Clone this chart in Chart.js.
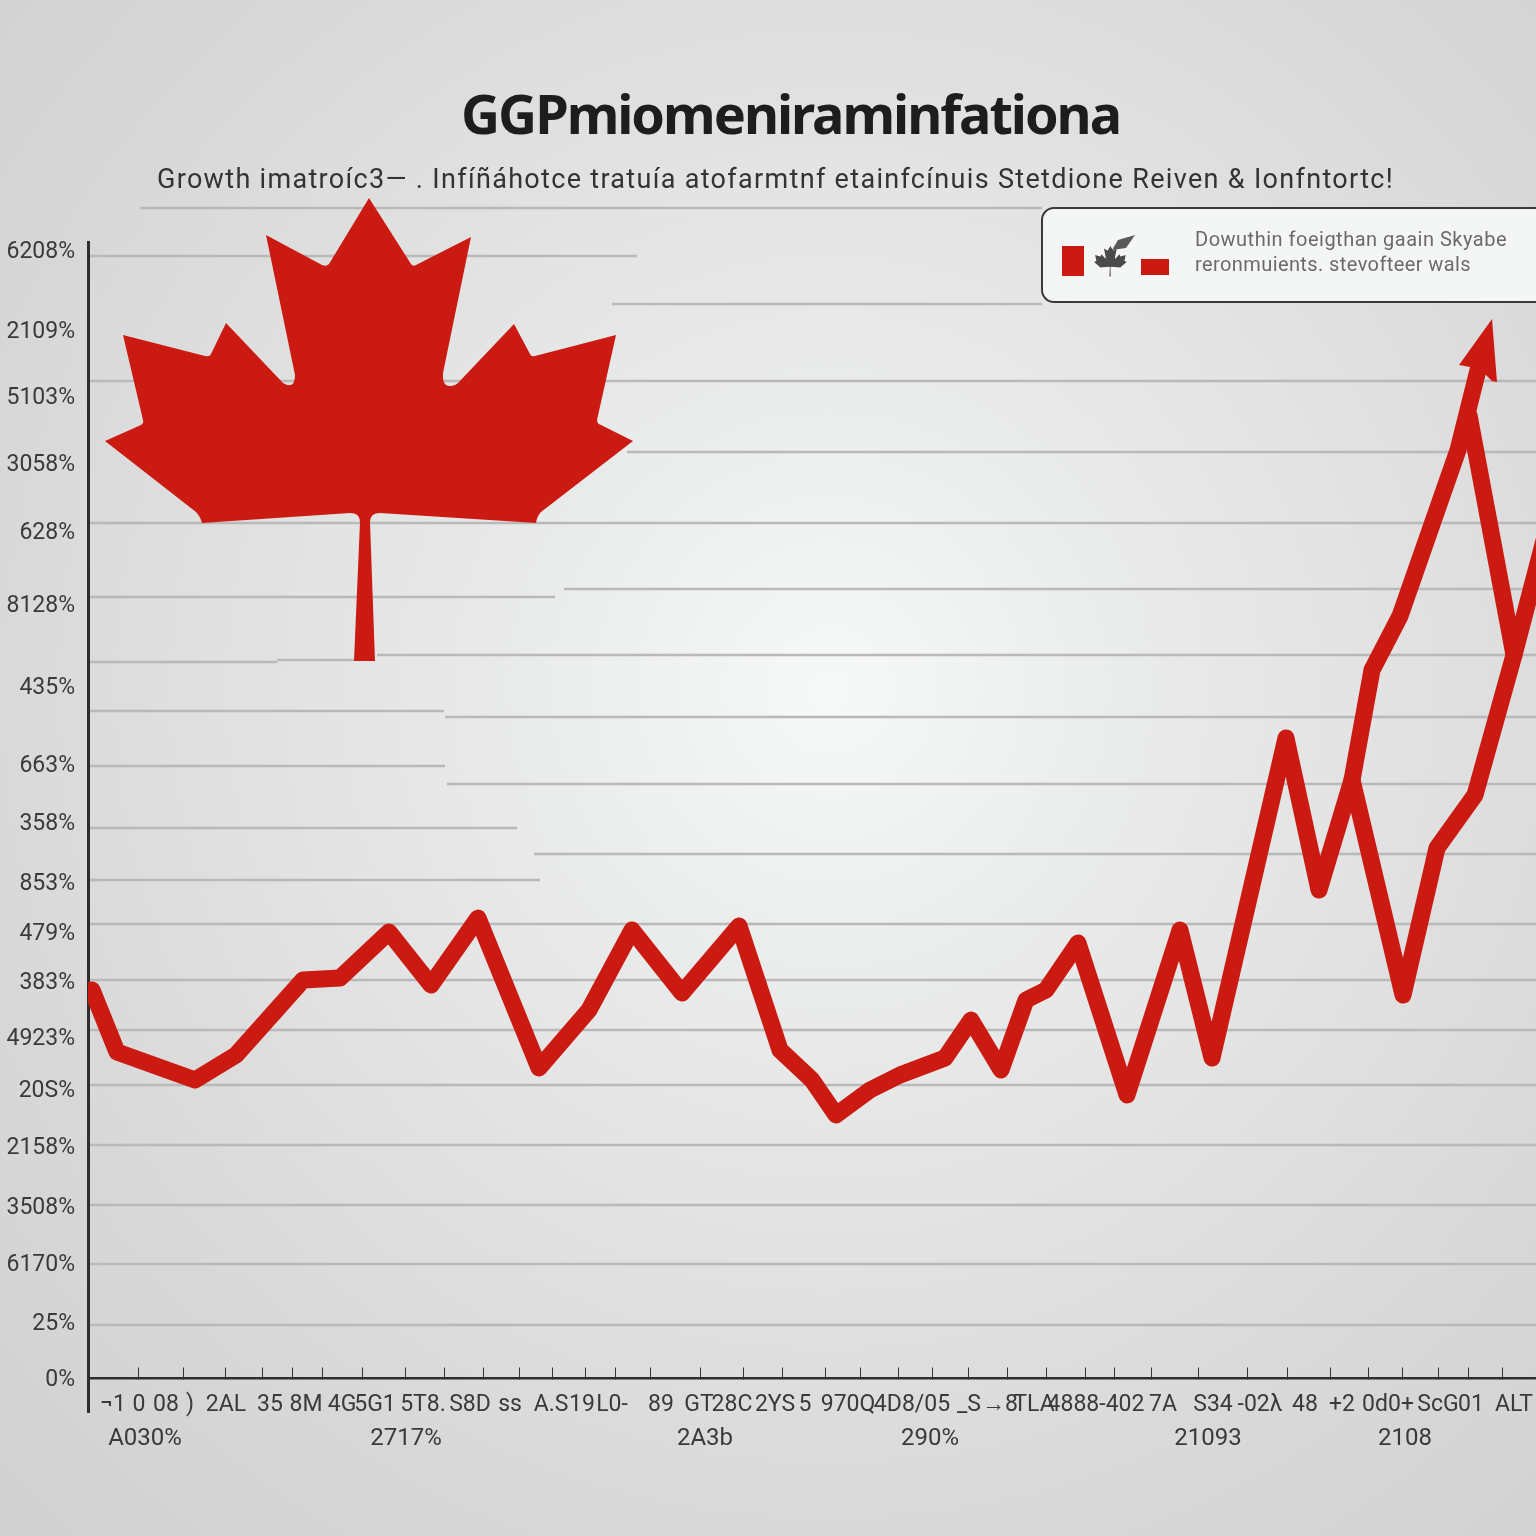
<!DOCTYPE html>
<html>
<head>
<meta charset="utf-8">
<title>GDP chart</title>
<style>
  html, body { margin: 0; padding: 0; }
  body {
    width: 1536px; height: 1536px; overflow: hidden;
    background: radial-gradient(circle at 830px 690px, #f7f8f8 0, #e9eaea 320px, #e0e0e0 620px, #d8d8d8 860px, #d0d0d0 1200px);
  }
  canvas { display: block; }
</style>
<script src="https://cdn.jsdelivr.net/npm/chart.js@4/dist/chart.umd.min.js"></script>
</head>
<body>
<canvas id="chart" width="1536" height="1536"></canvas>
<script>
// values
const mainX = [0.4, 2.9, 10.7, 14.8, 21.5, 25.2, 30.1, 34.3, 39.0, 45.1, 50.1, 54.4, 59.4, 65.1, 69.2, 72.4, 74.8, 78.2, 81.2, 85.7, 88.3, 91.3, 93.8, 95.8, 99.0, 103.9, 109.2, 112.4, 119.8, 123.1, 126.4, 128.4, 131.2, 137.0, 139.0]
const mainY = [38.8, 32.6, 29.8, 32.3, 39.8, 40.0, 44.6, 39.3, 46.0, 31.0, 36.8, 44.8, 38.5, 45.2, 32.8, 29.8, 26.3, 28.8, 30.3, 32.0, 35.8, 30.8, 37.8, 38.8, 43.5, 28.3, 44.8, 32.0, 64.0, 48.8, 59.8, 70.8, 76.2, 92.8, 100.8]

const lowerX = [126.4, 131.5, 134.9, 138.7, 142.6, 146.4]
const lowerY = [59.8, 38.3, 53.0, 58.3, 72.3, 86.8]

const dropX = [138.1, 142.6]
const dropY = [96.3, 72.3]

const yTickValues = [112.8, 104.8, 98.2, 91.5, 84.7, 77.4, 69.2, 61.4, 55.6, 49.6, 44.6, 39.7, 34.1, 28.9, 23.2, 17.2, 11.5, 5.6, 0]
const yTickLabels = ['6208%', '2109%', '5103%', '3058%', '628%', '8128%', '435%', '663%', '358%', '853%', '479%', '383%', '4923%', '20S%', '2158%', '3508%', '6170%', '25%', '0%']

const xMarkValues = [5.0, 9.5, 13.7, 17.4, 20.4, 23.4, 27.5, 31.7, 35.6, 39.6, 43.1, 46.4, 49.8, 52.7, 56.2, 61.3, 65.5, 69.4, 73.7, 77.3, 81.0, 84.4, 88.1, 92.0, 95.8, 99.7, 102.6, 106.3, 111.0, 115.9, 119.9, 124.2, 128.0, 131.4, 135.1, 138.0, 141.4]

const rowOneValues = [2.5, 5.1, 7.8, 10.2, 13.8, 18.2, 21.8, 25.4, 28.7, 33.5, 38.2, 42.2, 46.3, 49.4, 52.4, 57.3, 61.1, 64.4, 68.7, 71.7, 76.0, 82.4, 88.1, 91.2, 94.6, 100.8, 107.5, 112.5, 117.2, 121.7, 125.4, 130.0, 135.0, 138.3, 142.6]
const rowOneLabels = ['¬1', '0', '08', ')', '2AL', '35', '8M', '4G', '5G1', '5T8.', 'S8D', 'ss', 'A.S', '19', 'L0-', '89', 'GT', '28C', '2YS', '5', '970Q', '4D8/05', '_S', '→8', 'TLA', '4888-402', '7A', 'S34', '-02λ', '48', '+2', '0d0+', 'ScG', '01', 'ALT']

const rowTwoValues = [5.7, 31.8, 61.7, 84.2, 112.0, 131.7]
const rowTwoLabels = ['A030%', '2717%', '2A3b', '290%', '21093', '2108']

const gridLevels = [117.0, 112.2, 107.4, 99.7, 92.6, 85.5, 78.9, 78.1, 72.3, 71.8, 71.6, 66.7, 66.1, 61.2, 59.4, 55.0, 52.4, 49.8, 45.4, 39.8, 34.8, 29.3, 23.3, 17.3, 11.4, 5.3]
const gridFrom = [5.2, 0.2, 52.4, 0.2, 53.9, 0.2, 47.6, 0.2, 28.9, 18.9, 0.2, 0.2, 35.7, 0.2, 35.9, 0.2, 44.6, 0.2, 0.2, 0.2, 0.2, 0.2, 0.2, 0.2, 0.2, 0.2]
const gridTo = [95.4, 54.9, 95.4, 144.8, 144.8, 144.8, 144.8, 46.7, 144.8, 26.6, 18.9, 35.6, 144.8, 35.7, 144.8, 42.9, 144.8, 45.2, 144.8, 144.8, 144.8, 144.8, 144.8, 144.8, 144.8, 144.8]

const titleText = 'GGPmiomeniraminfationa'
const subtitleText = 'Growth imatroíc3— . Infíñáhotce tratuía atofarmtnf etainfcínuis Stetdione Reiven & Ionfntortc!'
const legendLines = ['Dowuthin foeigthan gaain Skyabe', 'reronmuients. stevofteer wals']

const RED = '#cb1a11'
const FONT = 'Roboto, "Liberation Sans", sans-serif'

function zip(xs, ys) {
    return xs.map((x, i) => ({ x: x, y: ys[i] }))
}

function traceLeaf(c) {
    c.beginPath()
    c.moveTo(369, 198)
    c.lineTo(411, 264)
    c.quadraticCurveTo(413, 267, 416, 265)
    c.lineTo(471, 237)
    c.lineTo(443, 373)
    c.quadraticCurveTo(442, 387, 451, 386)
    c.quadraticCurveTo(455, 386, 458, 383)
    c.lineTo(514, 324)
    c.lineTo(530, 354)
    c.quadraticCurveTo(531, 357, 535, 356)
    c.lineTo(616, 335)
    c.lineTo(597, 420)
    c.quadraticCurveTo(597, 424, 601, 425)
    c.lineTo(633, 441)
    c.lineTo(541, 512)
    c.quadraticCurveTo(537, 516, 536, 523)
    c.lineTo(380, 513)
    c.quadraticCurveTo(370, 513, 370, 522)
    c.lineTo(375, 661)
    c.lineTo(354, 661)
    c.lineTo(360, 522)
    c.quadraticCurveTo(360, 513, 350, 513)
    c.lineTo(202, 523)
    c.quadraticCurveTo(200, 516, 196, 512)
    c.lineTo(105, 441)
    c.lineTo(141, 425)
    c.quadraticCurveTo(144, 423, 143, 420)
    c.lineTo(123, 335)
    c.lineTo(205, 356)
    c.quadraticCurveTo(210, 357, 211, 354)
    c.lineTo(226, 323)
    c.lineTo(283, 383)
    c.quadraticCurveTo(295, 390, 295, 375)
    c.lineTo(266, 235)
    c.lineTo(322, 265)
    c.quadraticCurveTo(326, 267, 329, 264)
    c.closePath()
}

// spreads the letters so a line fills the same run as in the picture
function fitText(c, text, x, y, width) {
    c.letterSpacing = '0px'
    const gap = (width - c.measureText(text).width) / text.length
    c.letterSpacing = gap.toFixed(3) + 'px'
    c.fillText(text, x, y)
    c.letterSpacing = '0px'
}

// title, flag leaf and the note box sit outside the scales
const decorations = {
    id: 'decorations',
    afterDatasetsDraw(chart) {
        const c = chart.ctx
        c.save()

        c.fillStyle = RED
        traceLeaf(c)
        c.fill()

        c.fillStyle = '#1d1d1d'
        c.font = 'bold 54px "Noto Sans", sans-serif'
        c.textBaseline = 'alphabetic'
        c.textAlign = 'left'
        fitText(c, titleText, 461, 134, 659)

        c.fillStyle = '#333'
        c.font = '27px ' + FONT
        fitText(c, subtitleText, 157, 188, 1237)

        c.beginPath()
        c.roundRect(1042, 208, 520, 94, 12)
        c.fillStyle = '#f4f6f6'
        c.fill()
        c.lineWidth = 2
        c.strokeStyle = '#3a3a3a'
        c.stroke()

        c.fillStyle = RED
        c.fillRect(1062, 246, 22, 30)
        c.fillRect(1141, 259, 28, 16)

        c.save()
        c.translate(1094, 246)
        c.scale(0.062, 0.066)
        c.translate(-105, -198)
        c.fillStyle = '#4a4a4a'
        traceLeaf(c)
        c.fill()
        c.restore()
        c.fillStyle = '#5a5a5a'
        c.beginPath()
        c.moveTo(1135, 235)
        c.lineTo(1118, 240)
        c.lineTo(1112, 250)
        c.lineTo(1126, 248)
        c.closePath()
        c.fill()

        c.fillStyle = '#6a6a6a'
        c.font = '20px ' + FONT
        fitText(c, legendLines[0], 1195, 246, 312)
        fitText(c, legendLines[1], 1195, 271, 276)

        // arrow head on the end of the main line
        const last = chart.getDatasetMeta(0).data[mainX.length - 1]
        c.fillStyle = RED
        c.beginPath()
        c.moveTo(last.x + 14, last.y - 51)
        c.lineTo(last.x - 19, last.y - 5)
        c.lineTo(last.x - 8, last.y - 3)
        c.lineTo(last.x + 8, last.y + 5)
        c.lineTo(last.x + 14, last.y + 11)
        c.lineTo(last.x + 19, last.y + 12)
        c.closePath()
        c.fill()

        c.restore()
    }
}

const lineStyle = {
    borderColor: RED,
    borderWidth: 17,
    borderJoinStyle: 'round',
    borderCapStyle: 'round',
    pointRadius: 0,
    tension: 0,
    clip: { left: 0, right: 0, top: false, bottom: 0 }
}

const gridSets = gridLevels.map((level, i) => ({
    data: [{ x: gridFrom[i], y: level }, { x: gridTo[i], y: level }],
    borderColor: '#b9b9b9',
    borderWidth: 2.5,
    pointRadius: 0,
    clip: false,
    order: 5
}))

function flatAxis(scale) {
    scale.height = 0
    scale.paddingLeft = 0
    scale.paddingRight = 0
}

function xBase(values) {
    return {
        type: 'linear',
        position: { y: 0 },
        min: 0,
        max: 144.8,
        afterFit: flatAxis,
        afterBuildTicks(scale) {
            scale.ticks = values.map(v => ({ value: v }))
        }
    }
}

new Chart(document.getElementById('chart'), {
    type: 'line',
    data: {
        datasets: [
            Object.assign({ data: zip(mainX, mainY), order: 1 }, lineStyle),
            Object.assign({ data: zip(lowerX, lowerY), order: 1 }, lineStyle),
            Object.assign({ data: zip(dropX, dropY), order: 1 }, lineStyle)
        ].concat(gridSets)
    },
    options: {
        responsive: false,
        animation: false,
        layout: { padding: { top: 242, bottom: 124, left: 0, right: 0 } },
        plugins: { legend: { display: false }, tooltip: { enabled: false } },
        scales: {
            x: Object.assign(xBase(xMarkValues), {
                grid: { drawOnChartArea: false, tickLength: -12, tickColor: '#333', tickWidth: 1 },
                border: { display: true, color: '#2e2e2e', width: 2.5 },
                ticks: { display: false, autoSkip: false }
            }),
            xRowOne: Object.assign(xBase(rowOneValues), {
                grid: { display: false, drawTicks: false },
                border: { display: false },
                ticks: {
                    autoSkip: false, maxRotation: 0, padding: 13, color: '#3a3a3a',
                    font: { family: FONT, size: 23 },
                    callback: (v, i) => rowOneLabels[i]
                }
            }),
            xRowTwo: Object.assign(xBase(rowTwoValues), {
                grid: { display: false, drawTicks: false },
                border: { display: false },
                ticks: {
                    autoSkip: false, maxRotation: 0, padding: 47, color: '#3a3a3a',
                    font: { family: FONT, size: 24 },
                    callback: (v, i) => rowTwoLabels[i]
                }
            }),
            y: {
                type: 'linear',
                min: -3.4,
                max: 113.6,
                afterFit(scale) { scale.width = 88 },
                afterBuildTicks(scale) {
                    scale.ticks = yTickValues.map(v => ({ value: v }))
                },
                grid: { display: false, drawTicks: false },
                border: { display: true, color: '#2e2e2e', width: 3 },
                ticks: {
                    autoSkip: false, padding: 13, labelOffset: 2, color: '#3a3a3a',
                    font: { family: FONT, size: 23 },
                    callback: (v, i) => yTickLabels[i]
                }
            }
        }
    },
    plugins: [decorations]
})
</script>
</body>
</html>
